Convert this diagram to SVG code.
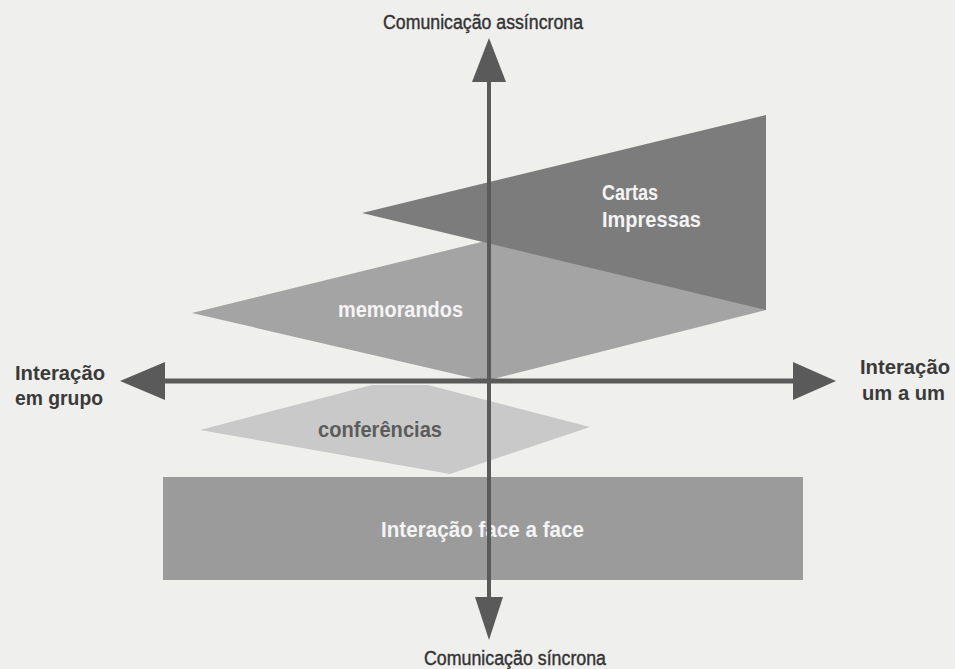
<svg xmlns="http://www.w3.org/2000/svg" width="955" height="669" viewBox="0 0 955 669">
<style>
.lbl{font-family:"Liberation Sans",Arial,sans-serif;font-weight:bold;}
.in{fill:#f4f4f4;font-size:22px;}
.ax{fill:#3a3a3a;font-size:21px;}
.cm{fill:#333;font-family:"Liberation Sans",Arial,sans-serif;font-size:20px;stroke:#333;stroke-width:0.4px;}
.axis{stroke:#5a5a5a;fill:none;}
.head{fill:#5a5a5a;}
</style>
<rect x="0" y="0" width="955" height="669" fill="#efefed"/>
<g id="face-a-face">
<rect x="163" y="477" width="640" height="103" fill="#9b9b9b"/>
<text class="lbl in" x="381" y="537" textLength="203" lengthAdjust="spacingAndGlyphs">Interação face a face</text>
</g>
<g id="conferencias">
<polygon points="200,430 372,385 428,385 590,427 450,474" fill="#c9c9c9"/>
<text class="lbl" x="318" y="437" font-size="22" fill="#5c5c5c" textLength="124" lengthAdjust="spacingAndGlyphs">conferências</text>
</g>
<g id="memorandos">
<polygon points="192,313 766,172 766,310 485,381" fill="#a4a4a4"/>
<text class="lbl in" x="338" y="317" textLength="125" lengthAdjust="spacingAndGlyphs">memorandos</text>
</g>
<g id="cartas">
<polygon points="362,213 766,115 766,310" fill="#7c7c7c"/>
<text class="lbl in" x="602" y="200" textLength="56" lengthAdjust="spacingAndGlyphs">Cartas</text>
<text class="lbl in" x="602" y="227" textLength="99" lengthAdjust="spacingAndGlyphs">Impressas</text>
</g>
<g id="connectors">
<line class="axis" x1="160" y1="381" x2="798" y2="381" stroke-width="5"/>
<polygon class="head" points="120,381 165,362 165,400"/>
<polygon class="head" points="836,381 793,362 793,400"/>
<line class="axis" x1="489" y1="78" x2="489" y2="600" stroke-width="4"/>
<polygon class="head" points="489,38 472,82 506,82"/>
<polygon class="head" points="489,640 475,597 503,597"/>
</g>
<g id="label-assincrona">
<text class="cm" x="383" y="29" textLength="200" lengthAdjust="spacingAndGlyphs">Comunicação assíncrona</text>
</g>
<g id="label-sincrona">
<text class="cm" x="424" y="665" textLength="182" lengthAdjust="spacingAndGlyphs">Comunicação síncrona</text>
</g>
<g id="label-grupo">
<text class="lbl ax" x="15" y="380" textLength="90" lengthAdjust="spacingAndGlyphs">Interação</text>
<text class="lbl ax" x="15" y="405" textLength="88" lengthAdjust="spacingAndGlyphs">em grupo</text>
</g>
<g id="label-um">
<text class="lbl ax" x="860" y="374" textLength="90" lengthAdjust="spacingAndGlyphs">Interação</text>
<text class="lbl ax" x="862" y="400" textLength="83" lengthAdjust="spacingAndGlyphs">um a um</text>
</g>
</svg>
